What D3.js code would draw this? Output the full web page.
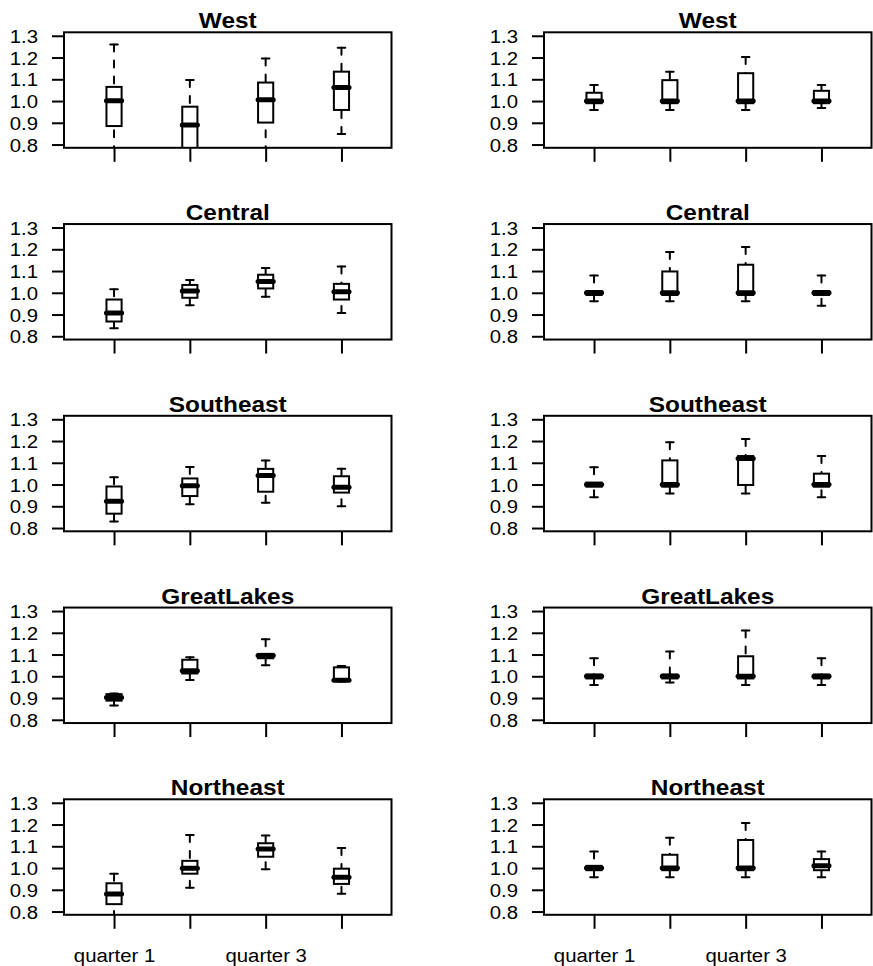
<!DOCTYPE html>
<html>
<head>
<meta charset="utf-8">
<script src="https://cdn.jsdelivr.net/npm/d3@7"></script>
<style>
  html, body { margin: 0; padding: 0; background: #fff; }
  svg { display: block; }
  text { font-family: "Liberation Sans", Arial, Helvetica, sans-serif; fill: #000; }
</style>
</head>
<body>
<svg id="chart" width="873" height="966"></svg>
<script>
// Region names (one row of panels each) and quarter labels
const regions = ["West", "Central", "Southeast", "GreatLakes", "Northeast"];
const quarterLabels = ["quarter 1", "quarter 2", "quarter 3", "quarter 4"];
const yTickValues = [0.8, 0.9, 1.0, 1.1, 1.2, 1.3];

// Box summaries per quarter: [lower whisker, Q1, median, Q3, upper whisker]
const westLeft = [
  [0.76, 0.885, 1.001, 1.065, 1.260],
  [0.70, 0.760, 0.890, 0.974, 1.097],
  [0.76, 0.901, 1.006, 1.085, 1.195],
  [0.849, 0.959, 1.062, 1.135, 1.245]
];
const westRight = [
  [0.959, 0.990, 1.000, 1.038, 1.074],
  [0.959, 0.990, 1.000, 1.096, 1.135],
  [0.959, 0.990, 1.000, 1.128, 1.202],
  [0.968, 0.990, 1.000, 1.047, 1.074]
];
const centralLeft = [
  [0.837, 0.868, 0.907, 0.969, 1.016],
  [0.943, 0.977, 1.008, 1.036, 1.059],
  [0.982, 1.020, 1.052, 1.083, 1.114],
  [0.907, 0.969, 1.005, 1.041, 1.121]
];
const centralRight = [
  [0.961, 0.990, 1.000, 1.008, 1.080],
  [0.961, 0.990, 1.000, 1.098, 1.188],
  [0.961, 0.990, 1.000, 1.129, 1.210],
  [0.940, 0.990, 1.000, 1.008, 1.080]
];
const southeastLeft = [
  [0.830, 0.866, 0.923, 0.991, 1.033],
  [0.909, 0.947, 0.994, 1.028, 1.081],
  [0.916, 0.967, 1.041, 1.072, 1.111],
  [0.900, 0.963, 0.988, 1.038, 1.072]
];
const southeastRight = [
  [0.941, 0.990, 1.000, 1.009, 1.080],
  [0.959, 0.990, 1.000, 1.111, 1.194],
  [0.959, 0.998, 1.120, 1.131, 1.209],
  [0.941, 0.990, 1.000, 1.050, 1.131]
];
const greatLakesLeft = [
  [0.866, 0.888, 0.902, 0.918, 0.921],
  [0.983, 1.013, 1.025, 1.076, 1.087],
  [1.051, 1.083, 1.095, 1.103, 1.170],
  [0.976, 0.978, 0.982, 1.041, 1.047]
];
const greatLakesRight = [
  [0.960, 0.990, 1.000, 1.008, 1.083],
  [0.971, 0.990, 1.000, 1.008, 1.114],
  [0.960, 0.990, 1.000, 1.092, 1.211],
  [0.960, 0.990, 1.000, 1.008, 1.083]
];
const northeastLeft = [
  [0.770, 0.834, 0.881, 0.930, 0.974],
  [0.909, 0.974, 0.999, 1.033, 1.152],
  [0.994, 1.052, 1.087, 1.114, 1.149],
  [0.882, 0.927, 0.958, 0.997, 1.092]
];
const northeastRight = [
  [0.958, 0.990, 1.000, 1.010, 1.076],
  [0.958, 0.990, 1.000, 1.061, 1.139],
  [0.958, 0.990, 1.000, 1.129, 1.207],
  [0.958, 0.990, 1.010, 1.041, 1.076]
];

const leftColumn = [westLeft, centralLeft, southeastLeft, greatLakesLeft, northeastLeft];
const rightColumn = [westRight, centralRight, southeastRight, greatLakesRight, northeastRight];

// ---- layout ----
const svg = d3.select("#chart");
const colX = [64, 544];
const plotW = 327.5, plotH = 115.5;
const rowTop0 = 32.3, rowStep = 191.75;
const yDomain = [0.785, 1.316];
const xDomain = [0.34, 4.66];
const fontScaleX = 1.13;
const tickFont = 18, titleFont = 21.6;

// widen glyphs slightly, like the original device output
function stretch(sel) {
  sel.each(function () {
    const w = this.getComputedTextLength();
    d3.select(this).attr("textLength", w * fontScaleX).attr("lengthAdjust", "spacingAndGlyphs");
  });
}

function drawPanel(stats, region, row, col) {
  const x0 = colX[col], y0 = rowTop0 + row * rowStep;
  const g = svg.append("g").attr("transform", `translate(${x0},${y0})`);
  const x = d3.scaleLinear().domain(xDomain).range([0, plotW]);
  const y = d3.scaleLinear().domain(yDomain).range([plotH, 0]);

  const clipId = `clip-${row}-${col}`;
  g.append("clipPath").attr("id", clipId)
    .append("rect").attr("width", plotW).attr("height", plotH);
  const body = g.append("g").attr("clip-path", `url(#${clipId})`);

  const boxHalf = x(1.1) - x(1);
  const capHalf = boxHalf * 0.5;

  stats.forEach((s, i) => {
    const cx = x(i + 1);
    const [lo, q1, md, q3, hi] = s;
    // whiskers, drawn from the whisker end toward the box
    [[hi, q3], [lo, q1]].forEach(([a, b]) => {
      body.append("line")
        .attr("x1", cx).attr("x2", cx)
        .attr("y1", y(a)).attr("y2", y(b))
        .attr("stroke", "#000").attr("stroke-width", 2)
        .attr("stroke-linecap", "round")
        .attr("stroke-dasharray", "7,9");
    });
    // staples
    [hi, lo].forEach(v => {
      body.append("line")
        .attr("x1", cx - capHalf).attr("x2", cx + capHalf)
        .attr("y1", y(v)).attr("y2", y(v))
        .attr("stroke", "#000").attr("stroke-width", 2)
        .attr("stroke-linecap", "round");
    });
    // box
    body.append("rect")
      .attr("x", cx - boxHalf).attr("width", 2 * boxHalf)
      .attr("y", y(q3)).attr("height", y(q1) - y(q3))
      .attr("fill", "#fff").attr("stroke", "#000").attr("stroke-width", 2);
    // median
    body.append("line")
      .attr("x1", cx - boxHalf).attr("x2", cx + boxHalf)
      .attr("y1", y(md)).attr("y2", y(md))
      .attr("stroke", "#000").attr("stroke-width", 5)
      .attr("stroke-linecap", "round");
  });

  // frame
  g.append("rect").attr("width", plotW).attr("height", plotH)
    .attr("fill", "none").attr("stroke", "#000").attr("stroke-width", 2);

  // y axis
  const yAxis = g.append("g")
    .call(d3.axisLeft(y).tickValues(yTickValues).tickSize(12).tickPadding(14)
      .tickFormat(d3.format(".1f")));
  yAxis.select(".domain").remove();
  yAxis.selectAll(".tick line").attr("stroke-width", 2);
  yAxis.selectAll(".tick text")
    .attr("font-size", tickFont).attr("font-family", null).attr("dy", "0.36em");
  stretch(yAxis.selectAll(".tick text"));

  // x axis: labels only on the bottom row, every other quarter
  const bottom = row === regions.length - 1;
  const xAxis = g.append("g").attr("transform", `translate(0,${plotH})`)
    .call(d3.axisBottom(x).tickValues([1, 2, 3, 4]).tickSize(14).tickPadding(0)
      .tickFormat(d => (bottom && d % 2 === 1) ? quarterLabels[d - 1] : ""));
  xAxis.select(".domain").remove();
  xAxis.selectAll(".tick line").attr("stroke-width", 2);
  xAxis.selectAll(".tick text")
    .attr("font-size", tickFont).attr("font-family", null)
    .attr("y", 962 - (y0 + plotH)).attr("dy", 0);
  stretch(xAxis.selectAll(".tick text").filter(function () { return this.textContent; }));

  // title
  const t = g.append("text")
    .attr("x", plotW / 2).attr("y", -4)
    .attr("text-anchor", "middle")
    .attr("font-size", titleFont).attr("font-weight", "bold")
    .text(region);
  stretch(t);
}

regions.forEach((r, i) => {
  drawPanel(leftColumn[i], r, i, 0);
  drawPanel(rightColumn[i], r, i, 1);
});
</script>
</body>
</html>
